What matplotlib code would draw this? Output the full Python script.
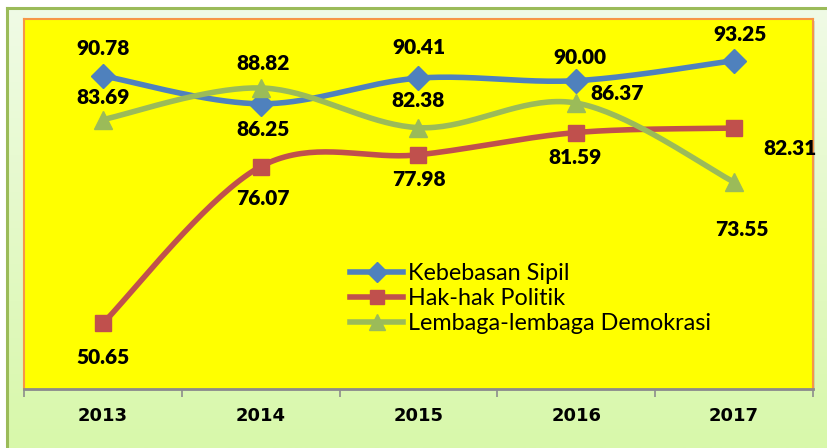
import numpy as np
import matplotlib
matplotlib.use("Agg")
import matplotlib.pyplot as plt
from matplotlib.patches import Rectangle
from matplotlib.lines import Line2D
from matplotlib.colors import LinearSegmentedColormap

years = ["2013", "2014", "2015", "2016", "2017"]
kebebasan = [90.78, 86.25, 90.41, 90.00, 93.25]
hak = [50.65, 76.07, 77.98, 81.59, 82.31]
lembaga = [83.69, 88.82, 82.38, 86.37, 73.55]
series_names = ["Kebebasan Sipil", "Hak-hak Politik", "Lembaga-lembaga Demokrasi"]

# label placement (dx px, dy px) relative to point
kb_off = [(0, 27), (2, -26), (0, 31), (4, 23), (6, 26)]
hk_off = [(0, -34), (2, -32), (0, -25), (-1, -25), (56, -20)]
lb_off = [(0, 22), (2, 24), (0, 27), (41, 10), (8, -47)]

BLUE, RED, GREEN = "#4f81bd", "#c0504d", "#9bbb59"

W, H = 828, 448
fig = plt.figure(figsize=(W / 100, H / 100), dpi=100)
fig.patch.set_facecolor("white")

bg = fig.add_axes([0, 0, 1, 1], zorder=0)
bg.set_xlim(0, W)
bg.set_ylim(H, 0)
bg.axis("off")
grad = np.linspace(0, 1, 256).reshape(-1, 1)
cm = LinearSegmentedColormap.from_list("g", ["#f0fbe6", "#d8f8aa"])
bg.imshow(grad, cmap=cm, extent=(7, W + 2, H, 8), aspect="auto", zorder=1)
bg.plot([7, W + 2], [8.5, 8.5], color="#9bbb59", lw=2.2, zorder=2)
bg.plot([7, 7], [8, H], color="#9bbb59", lw=2.2, zorder=2)
bg.add_patch(Rectangle((26, 21), 813 - 24, 389 - 19, facecolor="#a0a0a0", alpha=0.35, edgecolor="none", zorder=2))

left, right, top, bottom = 24, 813, 19, 389
ax = fig.add_axes([left / W, 1 - bottom / H, (right - left) / W, (bottom - top) / H], zorder=2)
ax.set_facecolor("#ffff00")
x = np.arange(len(years))
ax.set_xlim(-0.5, len(years) - 0.5)
ax.set_ylim(40, 100)
for s in ["top", "right", "left"]:
    ax.spines[s].set_color("#f79646")
    ax.spines[s].set_linewidth(1.5)
ax.spines["bottom"].set_color("#8c8c8c")
ax.spines["bottom"].set_linewidth(2)
ax.set_yticks([])
ax.set_xticks(np.arange(-0.5, len(years), 1.0))
ax.set_xticklabels([])
ax.tick_params(axis="x", length=6, width=1.2, color="#8c8c8c", direction="out")
ax.set_xticks(x, minor=True)
ax.set_xticklabels(years, minor=True)
ax.tick_params(axis="x", which="minor", length=0, pad=13)
for lab in ax.get_xticklabels(minor=True):
    lab.set_fontfamily(["Liberation Sans Narrow", "DejaVu Sans"])
    lab.set_fontweight("bold")
    lab.set_fontsize(13)


def smooth(xs, ys, n=40):
    P = np.column_stack([np.asarray(xs, float), np.asarray(ys, float)])
    out = [P[0]]
    for i in range(len(P) - 1):
        p0 = P[i - 1] if i > 0 else P[i]
        p1 = P[i]
        p2 = P[i + 1]
        p3 = P[i + 2] if i + 2 < len(P) else P[i + 1]
        c1 = p1 + (p2 - p0) / 6
        c2 = p2 - (p3 - p1) / 6
        t = np.linspace(0, 1, n)[1:, None]
        seg = (1 - t) ** 3 * p1 + 3 * (1 - t) ** 2 * t * c1 + 3 * (1 - t) * t ** 2 * c2 + t ** 3 * p2
        out.extend(seg)
    out = np.array(out)
    return out[:, 0], out[:, 1]


lab_font = dict(fontfamily=["Lato", "DejaVu Sans"], fontweight="heavy", fontsize=15, color="black")
specs = [(kebebasan, BLUE, "D", 12, kb_off), (hak, RED, "s", 12, hk_off), (lembaga, GREEN, "^", 13, lb_off)]
for idx in [2, 1, 0]:
    vals, col, mk, ms, offs = specs[idx]
    sx, sy = smooth(x, vals)
    ax.plot(sx, sy, color=col, lw=4, solid_capstyle="round", zorder=3 + idx)
    ax.plot(x, vals, linestyle="none", marker=mk, ms=ms, color=col, zorder=3 + idx)
    for xi, v, (dx, dy) in zip(x, vals, offs):
        ax.annotate(f"{v:.2f}", (xi, v), xytext=(dx * 0.72, dy * 0.72), textcoords="offset points",
                    ha="center", va="center", zorder=10, **lab_font)

handles = [Line2D([], [], color=c, lw=4, marker=m, ms=s * 0.85) for _, c, m, s, _ in specs]
leg = ax.legend(handles, series_names, loc="upper left", bbox_to_anchor=(0.398, 0.372),
                frameon=False, prop=dict(family=["Lato", "DejaVu Sans"], size=16.8),
                handlelength=2.3, handletextpad=0.2, labelspacing=0.18, borderpad=0)

fig.savefig("out.png", dpi=100, facecolor=fig.get_facecolor())
